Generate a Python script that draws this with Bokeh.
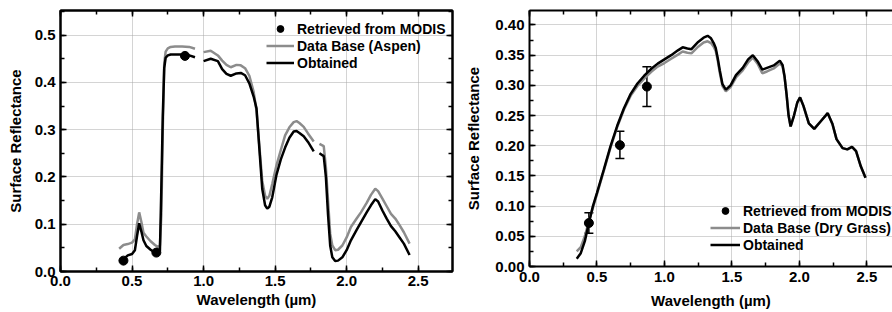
import numpy as np
from bokeh.plotting import figure
from bokeh.layouts import row
from bokeh.models import (Range1d, LinearAxis, SingleIntervalTicker, NumeralTickFormatter,
                          Legend, LegendItem, Whisker, TeeHead, ColumnDataSource)
from bokeh.embed import file_html
from bokeh.resources import INLINE

nan = float("nan")

# ---------------- Left panel (Aspen) ----------------
wl_left = [0.41, 0.44, 0.47, 0.50, 0.52, 0.535, 0.55, 0.565, 0.58, 0.60, 0.63, 0.66, 0.68, 0.695,
           0.705, 0.715, 0.725, 0.735, 0.75, 0.77, 0.80, 0.85, 0.90, 0.94, nan,
           1.00, 1.05, 1.10, 1.13, 1.16, 1.19, 1.23, 1.26, 1.29, 1.32, 1.35, 1.37, 1.39, 1.41,
           1.43, 1.445, 1.46, 1.48, 1.51, 1.54, 1.57, 1.60, 1.63, 1.65, 1.67, 1.70, 1.73, 1.77, nan,
           1.81, 1.84, 1.855, 1.87, 1.885, 1.90, 1.92, 1.94, 1.97, 2.00, 2.03, 2.07, 2.10, 2.14,
           2.17, 2.20, 2.22, 2.25, 2.28, 2.31, 2.34, 2.37, 2.40, 2.44]
aspen_database = [0.048, 0.056, 0.058, 0.061, 0.068, 0.100, 0.125, 0.105, 0.082, 0.074, 0.064, 0.056, 0.052, 0.055,
                  0.12, 0.30, 0.44, 0.465, 0.472, 0.475, 0.476, 0.476, 0.475, 0.471, nan,
                  0.464, 0.467, 0.457, 0.446, 0.437, 0.432, 0.437, 0.436, 0.430, 0.414, 0.380, 0.340, 0.265, 0.192,
                  0.160, 0.154, 0.160, 0.185, 0.225, 0.257, 0.288, 0.305, 0.316, 0.318, 0.314, 0.306, 0.292, 0.275, nan,
                  0.270, 0.265, 0.220, 0.150, 0.080, 0.055, 0.045, 0.046, 0.055, 0.072, 0.094, 0.112, 0.125, 0.145,
                  0.162, 0.175, 0.170, 0.154, 0.138, 0.122, 0.112, 0.098, 0.083, 0.059]
aspen_obtained = [0.022, 0.026, 0.034, 0.037, 0.045, 0.075, 0.102, 0.085, 0.066, 0.054, 0.046, 0.040, 0.039, 0.044,
                  0.18, 0.33, 0.43, 0.452, 0.457, 0.459, 0.459, 0.459, 0.457, 0.453, nan,
                  0.445, 0.450, 0.445, 0.428, 0.418, 0.414, 0.419, 0.420, 0.415, 0.398, 0.370, 0.345, 0.260, 0.175,
                  0.140, 0.133, 0.137, 0.157, 0.205, 0.237, 0.262, 0.283, 0.296, 0.297, 0.293, 0.286, 0.274, 0.254, nan,
                  0.250, 0.244, 0.200, 0.120, 0.055, 0.030, 0.022, 0.023, 0.030, 0.045, 0.066, 0.088, 0.104, 0.125,
                  0.140, 0.153, 0.148, 0.129, 0.112, 0.096, 0.085, 0.072, 0.059, 0.035]
modis_left_wl = [0.44, 0.67, 0.87]
modis_left_val = [0.023, 0.040, 0.456]

# ---------------- Right panel (Dry Grass) ----------------
wl_right = [0.35, 0.38, 0.41, 0.44, 0.47, 0.50, 0.55, 0.60, 0.65, 0.70, 0.75, 0.80, 0.85, 0.90, 0.95,
            1.00, 1.05, 1.10, 1.135, 1.17, 1.20, 1.25, 1.29, 1.32, 1.345, 1.365, 1.38, 1.395, 1.41,
            1.43, 1.455, 1.49, 1.53, 1.58, 1.62, 1.655, 1.69, 1.725, 1.76, 1.81, 1.855, 1.875, 1.89,
            1.905, 1.92, 1.935, 1.96, 1.985, 2.005, 2.03, 2.07, 2.11, 2.16, 2.21, 2.245, 2.275, 2.32,
            2.355, 2.39, 2.42, 2.455, 2.49]
grass_obtained = [0.013, 0.022, 0.042, 0.072, 0.100, 0.122, 0.160, 0.199, 0.233, 0.262, 0.286, 0.303, 0.316, 0.327, 0.336,
                  0.343, 0.350, 0.358, 0.363, 0.361, 0.360, 0.372, 0.379, 0.382, 0.378, 0.370, 0.362, 0.345, 0.325,
                  0.302, 0.293, 0.300, 0.317, 0.329, 0.343, 0.350, 0.340, 0.326, 0.329, 0.333, 0.341, 0.334, 0.315,
                  0.285, 0.250, 0.232, 0.250, 0.272, 0.280, 0.266, 0.237, 0.228, 0.241, 0.254, 0.236, 0.211, 0.196,
                  0.194, 0.198, 0.191, 0.166, 0.147]
grass_database = [0.025, 0.032, 0.050, 0.075, 0.097, 0.120, 0.158, 0.197, 0.231, 0.260, 0.283, 0.299, 0.311, 0.322, 0.331,
                  0.337, 0.344, 0.351, 0.356, 0.354, 0.353, 0.364, 0.371, 0.373, 0.370, 0.364, 0.357, 0.341, 0.321,
                  0.299, 0.290, 0.297, 0.313, 0.325, 0.338, 0.346, 0.336, 0.320, 0.323, 0.328, 0.336, 0.332, 0.314,
                  0.285, 0.250, 0.232, 0.250, 0.272, 0.280, 0.266, 0.237, 0.228, 0.241, 0.254, 0.236, 0.211, 0.196,
                  0.194, 0.198, 0.191, 0.166, 0.147]
modis_right_wl = [0.44, 0.67, 0.87]
modis_right_val = [0.072, 0.201, 0.298]
modis_right_low = [0.055, 0.179, 0.265]
modis_right_high = [0.089, 0.224, 0.331]

FONT = "Liberation Sans"
GRAY = "#8c8c8c"


def style_axis(ax, show_labels=True, fmt="0.0"):
    ax.axis_line_width = 2
    ax.axis_line_color = "black"
    ax.major_tick_in = 6
    ax.major_tick_out = 0
    ax.minor_tick_in = 4
    ax.minor_tick_out = 0
    ax.major_tick_line_width = 1.5
    ax.minor_tick_line_width = 1.5
    ax.major_tick_line_color = "black"
    ax.minor_tick_line_color = "black"
    ax.major_label_text_font = FONT
    ax.major_label_text_font_style = "bold"
    ax.axis_label_text_font = FONT
    ax.axis_label_text_font_style = "bold"
    ax.axis_label_text_font_size = "15px"
    ax.axis_label_text_color = "black"
    if show_labels:
        ax.major_label_text_font_size = "15px"
        ax.major_label_text_color = "black"
        ax.formatter = NumeralTickFormatter(format=fmt)
    else:
        ax.major_label_text_font_size = "1px"
        ax.major_label_text_color = None
        ax.major_label_standoff = 0


def style_grid(p):
    for g in (p.xgrid, p.ygrid):
        g.grid_line_color = "#a8a8a8"
        g.grid_line_dash = "1 1"
        g.grid_line_width = 1


def style_legend(p, items, x, y, gw):
    lg = Legend(items=items, location=(x, y), margin=0, padding=0, spacing=0,
                glyph_width=gw, glyph_height=17, label_height=17, label_standoff=3,
                label_text_font=FONT, label_text_font_style="bold", label_text_font_size="14px",
                label_text_color="black", background_fill_alpha=0, border_line_color=None)
    p.add_layout(lg)


# ---------- left figure ----------
p1 = figure(frame_width=392, frame_height=261, x_range=Range1d(0, 2.74), y_range=Range1d(0, 0.552),
            output_backend="svg", toolbar_location=None,
            min_border_left=60, min_border_right=10, min_border_top=10, min_border_bottom=41)
p1.outline_line_color = "black"
p1.outline_line_width = 2
p1.xaxis.ticker = SingleIntervalTicker(interval=0.5, num_minor_ticks=2)
p1.yaxis.ticker = SingleIntervalTicker(interval=0.1, num_minor_ticks=2)
style_axis(p1.xaxis[0], True, "0.0")
style_axis(p1.yaxis[0], True, "0.0")
p1.xaxis.axis_label = "Wavelength (µm)"
p1.yaxis.axis_label = "Surface Reflectance"
p1.xaxis.major_label_standoff = 4
p1.xaxis.axis_label_standoff = 2
p1.yaxis.major_label_standoff = 5
p1.yaxis.axis_label_standoff = 8
ax_top1 = LinearAxis(ticker=SingleIntervalTicker(interval=0.5, num_minor_ticks=2))
ax_right1 = LinearAxis(ticker=SingleIntervalTicker(interval=0.1, num_minor_ticks=2))
style_axis(ax_top1, False)
style_axis(ax_right1, False)
p1.add_layout(ax_top1, "above")
p1.add_layout(ax_right1, "right")
style_grid(p1)

g1 = p1.line(wl_left, aspen_database, line_color=GRAY, line_width=2.5)
b1 = p1.line(wl_left, aspen_obtained, line_color="black", line_width=2.5)
s1 = p1.scatter(modis_left_wl, modis_left_val, size=9, color="black")
style_legend(p1, [LegendItem(label="Retrieved from MODIS", renderers=[s1]),
                  LegendItem(label="Data Base (Aspen)", renderers=[g1]),
                  LegendItem(label="Obtained", renderers=[b1])], 206, 200, 28)

# ---------- right figure ----------
p2 = figure(frame_width=363, frame_height=256, x_range=Range1d(0, 2.69), y_range=Range1d(0, 0.424),
            output_backend="svg", toolbar_location=None,
            min_border_left=66, min_border_right=1, min_border_top=9, min_border_bottom=47)
p2.outline_line_color = None
p2.xaxis.ticker = SingleIntervalTicker(interval=0.5, num_minor_ticks=2)
p2.yaxis.ticker = SingleIntervalTicker(interval=0.05, num_minor_ticks=2)
style_axis(p2.xaxis[0], True, "0.0")
style_axis(p2.yaxis[0], True, "0.00")
p2.xaxis.axis_label = "Wavelength (µm)"
p2.yaxis.axis_label = "Surface Reflectance"
p2.xaxis.major_label_standoff = 5
p2.xaxis.axis_label_standoff = 7
p2.yaxis.major_label_standoff = 5
p2.yaxis.axis_label_standoff = 10
ax_top2 = LinearAxis(ticker=SingleIntervalTicker(interval=0.5, num_minor_ticks=2))
style_axis(ax_top2, False)
p2.add_layout(ax_top2, "above")
style_grid(p2)

g2 = p2.line(wl_right, grass_database, line_color=GRAY, line_width=2.5)
b2 = p2.line(wl_right, grass_obtained, line_color="black", line_width=2.5)
err_src = ColumnDataSource(dict(x=modis_right_wl, lo=modis_right_low, hi=modis_right_high))
wh = Whisker(source=err_src, base="x", lower="lo", upper="hi", line_width=1.5, line_color="black",
             upper_head=TeeHead(size=9, line_width=1.5, line_color="black"),
             lower_head=TeeHead(size=9, line_width=1.5, line_color="black"))
p2.add_layout(wh)
s2 = p2.scatter(modis_right_wl, modis_right_val, size=9, color="black")
style_legend(p2, [LegendItem(label="Retrieved from MODIS", renderers=[s2]),
                  LegendItem(label="Data Base (Dry Grass)", renderers=[g2]),
                  LegendItem(label="Obtained", renderers=[b2])], 181, 13, 30)

layout = row(p1, p2)
open("out.html", "w").write(file_html(layout, INLINE))
